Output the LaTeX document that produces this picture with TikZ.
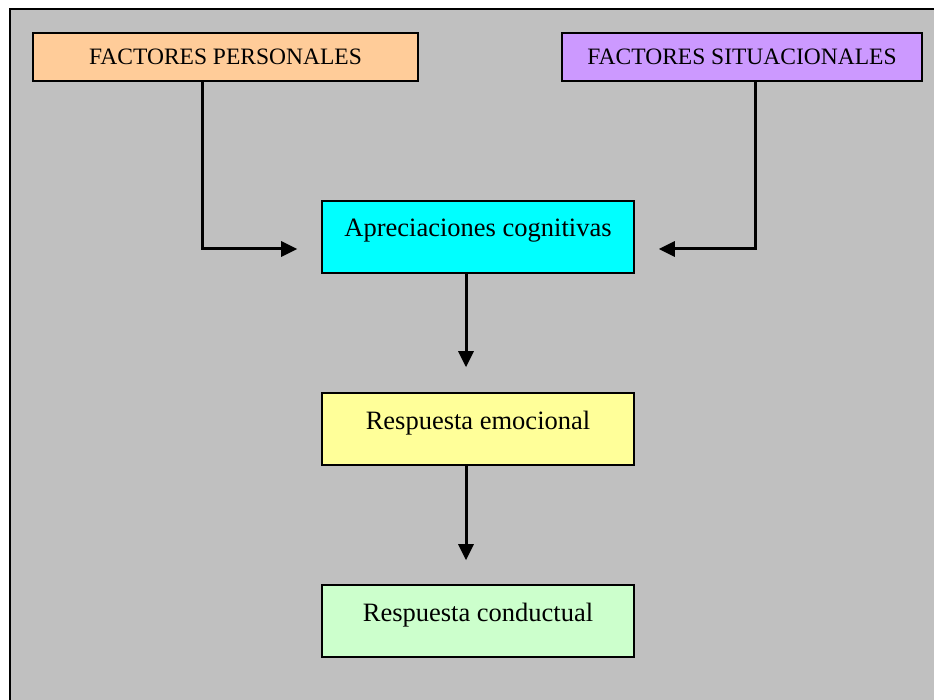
\documentclass[tikz,border=0pt]{standalone}
\usepackage{fontspec}
\setmainfont{Liberation Serif}
\usetikzlibrary{arrows.meta,calc}
\definecolor{bggray}{HTML}{C0C0C0}
\definecolor{corange}{HTML}{FFCC99}
\definecolor{cpurple}{HTML}{CC99FF}
\definecolor{ccyan}{HTML}{00FFFF}
\definecolor{cyellow}{HTML}{FFFF99}
\definecolor{cgreen}{HTML}{CCFFCC}
\tikzset{
  topbox/.style={draw=black, line width=1.6pt, minimum height=48pt, inner sep=0pt,
    font=\fontsize{23.5}{27}\selectfont},
  midbox/.style={draw=black, line width=1.6pt, minimum width=312pt, minimum height=72pt,
    inner sep=0pt, text height=12pt, text depth=12pt, font=\fontsize{26.5}{30}\selectfont},
  conn/.style={line width=3pt, -{Triangle[length=16pt,width=15pt]}},
  plain/.style={line width=3pt}
}
\begin{document}
\begin{tikzpicture}[x=1pt,y=-1pt]
\useasboundingbox (0,0) rectangle (934,700);
\fill[bggray] (10,9) rectangle (940,710);
\draw[line width=1.5pt] (10,710) -- (10,9) -- (940,9);
\node[topbox, fill=corange, minimum width=385pt] (b1) at (225.5,57) {FACTORES PERSONALES};
\node[topbox, fill=cpurple, minimum width=360pt] (b2) at (742,57) {FACTORES SITUACIONALES};
\node[midbox, fill=ccyan] (b3) at (478,237) {Apreciaciones cognitivas};
\node[midbox, fill=cyellow] (b4) at (478,429) {Respuesta emocional};
\node[midbox, fill=cgreen] (b5) at (478,621) {Respuesta conductual};
\coordinate (t1) at ($(b3.west)+(-24,12)$);
\coordinate (t2) at ($(b3.east)+(24,12)$);
\draw[conn] ($(b1.south)+(-23.5,0)$) |- (t1);
\draw[conn] ($(b2.south)+(13,0)$) |- (t2);
\draw[conn] ($(b3.south)+(-12,0)$) -- ($(b4.north)+(-12,-25)$);
\draw[conn] ($(b4.south)+(-12,0)$) -- ($(b5.north)+(-12,-24)$);
\end{tikzpicture}
\end{document}
